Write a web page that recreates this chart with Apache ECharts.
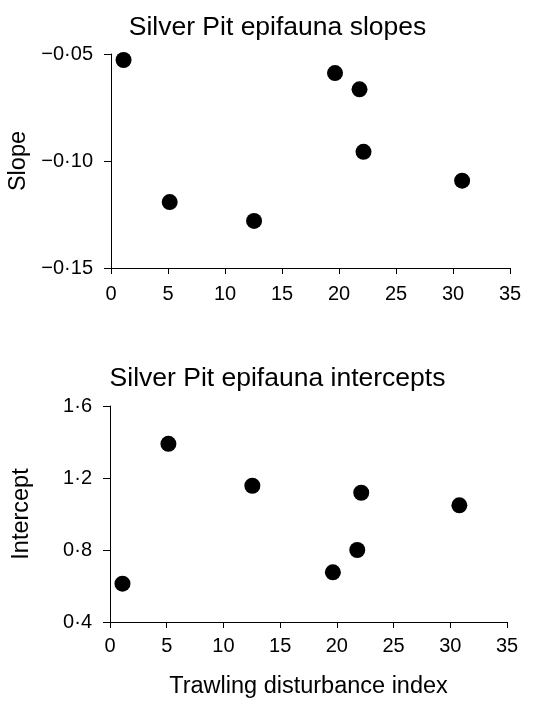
<!DOCTYPE html>
<html><head><meta charset="utf-8">
<script src="https://cdn.jsdelivr.net/npm/echarts@6/dist/echarts.min.js"></script>
<style>html,body{margin:0;padding:0;background:#fff}#c{width:555px;height:701px}</style>
</head><body><div id="c"></div>
<script>
var disturbance = [1.1, 5.15, 12.55, 19.65, 21.8, 22.15, 30.8];
var slopes = [-0.0528, -0.1192, -0.128, -0.0589, -0.0665, -0.0957, -0.1092];
var intercepts = [0.613, 1.39, 1.157, 0.676, 0.8, 1.118, 1.048];
var titles = ['Silver Pit epifauna slopes', 'Silver Pit epifauna intercepts'];
var xTicks = [0, 5, 10, 15, 20, 25, 30, 35];
var slopeTicks = [-0.15, -0.10, -0.05];
var interceptTicks = [0.4, 0.8, 1.2, 1.6];

var FONT = 'Liberation Sans, Arial, sans-serif';
function pairs(xs, ys){ return xs.map(function(x,i){ return [x, ys[i]]; }); }
function fmt(d){ return function(v){ var s = Math.abs(v).toFixed(d).replace('.', '\u00B7'); return (v < 0 ? '\u2212' : '') + s; }; }
var axisCommon = {
  axisLine:{show:true, onZero:false, lineStyle:{color:'#000', width:1}},
  axisTick:{show:true, length:6, lineStyle:{color:'#000', width:1}},
  splitLine:{show:false},
  axisLabel:{color:'#000', fontFamily:FONT, fontSize:20}
};
function merge(a,b){ return Object.assign({}, a, b); }

var chart = echarts.init(document.getElementById('c'), null, {renderer:'canvas'});
chart.setOption({
  backgroundColor:'#fff',
  animation:false,
  title:[
    {text:titles[0], left:'center', top:9, textStyle:{fontFamily:FONT, fontSize:26.5, fontWeight:'normal', color:'#000'}},
    {text:titles[1], left:'center', top:360, textStyle:{fontFamily:FONT, fontSize:26.5, fontWeight:'normal', color:'#000'}}
  ],
  grid:[
    {left:111, width:399, top:54, height:214, containLabel:false, outerBoundsMode:'none'},
    {left:110, width:397, top:406, height:216, containLabel:false, outerBoundsMode:'none'}
  ],
  xAxis:[
    merge(axisCommon, {gridIndex:0, type:'value', min:xTicks[0], max:xTicks[xTicks.length-1], interval:5,
      axisLabel:merge(axisCommon.axisLabel, {margin:16})}),
    merge(axisCommon, {gridIndex:1, type:'value', min:xTicks[0], max:xTicks[xTicks.length-1], interval:5,
      axisLabel:merge(axisCommon.axisLabel, {margin:14}),
      name:'Trawling disturbance index', nameLocation:'middle', nameGap:53,
      nameTextStyle:{fontFamily:FONT, fontSize:23.5, color:'#000'}})
  ],
  yAxis:[
    merge(axisCommon, {gridIndex:0, type:'value', min:slopeTicks[0], max:slopeTicks[slopeTicks.length-1], interval:0.05,
      axisTick:{show:true, length:7, lineStyle:{color:'#000'}},
      axisLabel:merge(axisCommon.axisLabel, {margin:18, formatter:fmt(2)}),
      name:'Slope', nameLocation:'middle', nameGap:77, nameRotate:90,
      nameTextStyle:{fontFamily:FONT, fontSize:23.5, color:'#000'}}),
    merge(axisCommon, {gridIndex:1, type:'value', min:interceptTicks[0], max:interceptTicks[interceptTicks.length-1], interval:0.4,
      axisTick:{show:true, length:7, lineStyle:{color:'#000'}},
      axisLabel:merge(axisCommon.axisLabel, {margin:18, formatter:fmt(1)}),
      name:'Intercept', nameLocation:'middle', nameGap:76, nameRotate:90,
      nameTextStyle:{fontFamily:FONT, fontSize:23.5, color:'#000'}})
  ],
  series:[
    {type:'scatter', xAxisIndex:0, yAxisIndex:0, data:pairs(disturbance, slopes), symbolSize:16, itemStyle:{color:'#000', opacity:1}},
    {type:'scatter', xAxisIndex:1, yAxisIndex:1, data:pairs(disturbance, intercepts), symbolSize:16, itemStyle:{color:'#000', opacity:1}}
  ]
});
</script></body></html>
